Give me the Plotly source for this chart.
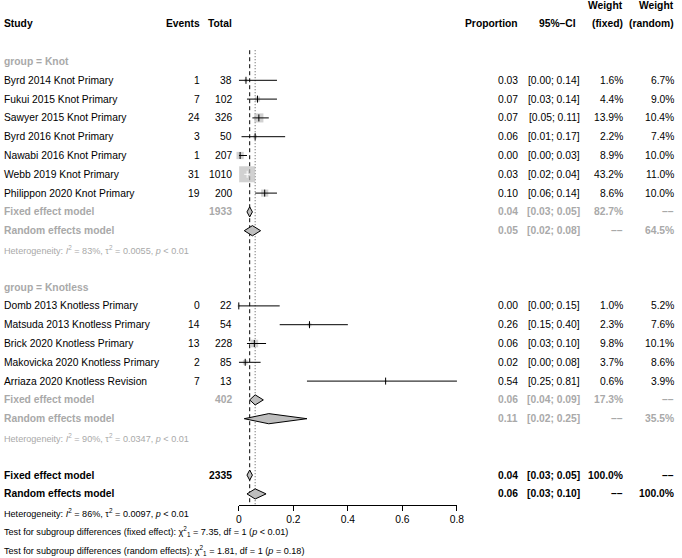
import plotly.graph_objects as go
import math

# ---------------- data ----------------
groups = ["Knot", "Knotless"]
study = [
    "Byrd 2014 Knot Primary", "Fukui 2015 Knot Primary", "Sawyer 2015 Knot Primary",
    "Byrd 2016 Knot Primary", "Nawabi 2016 Knot Primary", "Webb 2019 Knot Primary",
    "Philippon 2020 Knot Primary",
    "Domb 2013 Knotless Primary", "Matsuda 2013 Knotless Primary", "Brick 2020 Knotless Primary",
    "Makovicka 2020 Knotless Primary", "Arriaza 2020 Knotless Revision",
]
study_group = ["Knot"] * 7 + ["Knotless"] * 5
events = [1, 7, 24, 3, 1, 31, 19, 0, 14, 13, 2, 7]
total = [38, 102, 326, 50, 207, 1010, 200, 22, 54, 228, 85, 13]
ci_lo = [0.00, 0.03, 0.05, 0.01, 0.00, 0.02, 0.06, 0.00, 0.15, 0.03, 0.00, 0.25]
ci_hi = [0.14, 0.14, 0.11, 0.17, 0.03, 0.04, 0.14, 0.15, 0.40, 0.10, 0.08, 0.81]
w_fixed = [1.6, 4.4, 13.9, 2.2, 8.9, 43.2, 8.6, 1.0, 2.3, 9.8, 3.7, 0.6]
w_random = [6.7, 9.0, 10.4, 7.4, 10.0, 11.0, 10.0, 5.2, 7.6, 10.1, 8.6, 3.9]

# subgroup summaries
sub_total = [1933, 402]
sub_fixed_est = [0.04, 0.06]
sub_fixed_lo = [0.03, 0.04]
sub_fixed_hi = [0.05, 0.09]
sub_fixed_w = [82.7, 17.3]
sub_random_est = [0.05, 0.11]
sub_random_lo = [0.02, 0.02]
sub_random_hi = [0.08, 0.25]
sub_random_w = [64.5, 35.5]
sub_i2 = ["83%", "90%"]
sub_tau2 = ["0.0055", "0.0347"]
sub_p = ["< 0.01", "< 0.01"]

# overall
all_total = 2335
all_fixed = (0.04, 0.03, 0.05)
all_random = (0.06, 0.03, 0.10)
all_i2, all_tau2, all_p = "86%", "0.0097", "< 0.01"
test_fixed = ("7.35", "1", "< 0.01")
test_random = ("1.81", "1", "= 0.18")

x_ticks = [0, 0.2, 0.4, 0.6, 0.8]
x_ticklabels = ["0", "0.2", "0.4", "0.6", "0.8"]

# ---------------- layout constants ----------------
W, H = 682, 558
ROW0_PX, ROW_H = 80.3, 18.8
AXIS_PX = 505
X0_PX, X1_PX = 239.3, 460.7
FONT = "Liberation Sans, Arial, Helvetica, sans-serif"
FS, FS_SMALL = 10.3, 9.1
GRAY_TXT = "#A9A9A9"
GRAY_SQ = "#BEBEBE"
DIAM_H = 0.27  # half height (rows)
SQ_REF = 16.0  # px side for the largest weight

col_study = 1
col_events = 200
col_total = 232
col_prop = 523
col_ci = 586
col_ci_head = 582
col_wf = 629
col_wr = 681

annotations = []


def txt(xpx, row, text, anchor="right", color="black", size=FS, bold=False):
    if bold:
        text = "<b>" + text + "</b>"
    annotations.append(dict(
        x=xpx / W, xref="paper", y=row, yref="y", text=text, showarrow=False,
        xanchor=anchor, yanchor="middle", borderpad=0, borderwidth=0,
        font=dict(family=FONT, size=size, color=color)))


def fmt_ci(lo, hi):
    return "[%.2f; %.2f]" % (lo, hi)


DASH = "\u2013\u2013"

# header
txt(col_study, -3, "Study", "left", bold=True)
txt(col_events, -3, "Events", bold=True)
txt(col_total, -3, "Total", bold=True)
txt(col_prop, -3, "Proportion", bold=True)
txt(col_ci_head, -3, "95%\u2013CI", bold=True)
txt(col_wf, -4, "Weight", bold=True)
txt(col_wf, -3, "(fixed)", bold=True)
txt(col_wr, -4, "Weight", bold=True)
txt(col_wr, -3, "(random)", bold=True)

fig = go.Figure()

# reference lines (fixed dashed, random dotted)
ref_top = -1.6
ref_bot = (AXIS_PX - ROW0_PX) / ROW_H
fig.add_trace(go.Scatter(x=[all_fixed[0], all_fixed[0]], y=[ref_top, ref_bot], mode="lines",
                         line=dict(color="black", width=1, dash="4px,3px"), hoverinfo="skip"))
fig.add_trace(go.Scatter(x=[all_random[0], all_random[0]], y=[ref_top, ref_bot], mode="lines",
                         line=dict(color="#555555", width=1, dash="1px,2px"), hoverinfo="skip"))

sq_x, sq_y, sq_s = [], [], []
ci_x, ci_y = [], []
ciw_x, ciw_y = [], []
tk_x, tk_y, tk_c = [], [], []
diamonds = []

row = -1
for gi, g in enumerate(groups):
    txt(col_study, row, "group = " + g, "left", GRAY_TXT, bold=True)
    row += 1
    for i, s in enumerate(study):
        if study_group[i] != g:
            continue
        est = events[i] / total[i]
        txt(col_study, row, s, "left")
        txt(col_events, row, str(events[i]))
        txt(col_total, row, str(total[i]))
        txt(col_prop, row, "%.2f" % est)
        txt(col_ci, row, fmt_ci(ci_lo[i], ci_hi[i]))
        txt(col_wf, row, "%.1f%%" % w_fixed[i])
        txt(col_wr, row, "%.1f%%" % w_random[i])
        side = SQ_REF * math.sqrt(w_fixed[i] / max(w_fixed))
        sq_x.append(est); sq_y.append(row); sq_s.append(side)
        half = side / 2 / (X1_PX - X0_PX) * (x_ticks[-1] - x_ticks[0])
        inside = (est - half) <= ci_lo[i] and (est + half) >= ci_hi[i]
        if inside:
            ciw_x += [ci_lo[i], ci_hi[i], None]; ciw_y += [row, row, None]
        else:
            ci_x += [ci_lo[i], ci_hi[i], None]; ci_y += [row, row, None]
        tk_x.append(est); tk_y.append(row); tk_c.append("white" if inside else "black")
        row += 1
    # fixed
    txt(col_study, row, "Fixed effect model", "left", GRAY_TXT, bold=True)
    txt(col_total, row, str(sub_total[gi]), color=GRAY_TXT, bold=True)
    txt(col_prop, row, "%.2f" % sub_fixed_est[gi], color=GRAY_TXT, bold=True)
    txt(col_ci, row, fmt_ci(sub_fixed_lo[gi], sub_fixed_hi[gi]), color=GRAY_TXT, bold=True)
    txt(col_wf, row, "%.1f%%" % sub_fixed_w[gi], color=GRAY_TXT, bold=True)
    txt(col_wr, row, DASH, color=GRAY_TXT, bold=True)
    diamonds.append((sub_fixed_est[gi], sub_fixed_lo[gi], sub_fixed_hi[gi], row))
    row += 1
    txt(col_study, row, "Random effects model", "left", GRAY_TXT, bold=True)
    txt(col_prop, row, "%.2f" % sub_random_est[gi], color=GRAY_TXT, bold=True)
    txt(col_ci, row, fmt_ci(sub_random_lo[gi], sub_random_hi[gi]), color=GRAY_TXT, bold=True)
    txt(col_wf, row, DASH, color=GRAY_TXT, bold=True)
    txt(col_wr, row, "%.1f%%" % sub_random_w[gi], color=GRAY_TXT, bold=True)
    diamonds.append((sub_random_est[gi], sub_random_lo[gi], sub_random_hi[gi], row))
    row += 1
    txt(col_study, row, "Heterogeneity: <i>I</i><sup>2</sup> = %s, \u03c4<sup>2</sup> = %s, <i>p</i> %s"
        % (sub_i2[gi], sub_tau2[gi], sub_p[gi]), "left", GRAY_TXT, FS_SMALL)
    row += 2

# overall
row = 21
txt(col_study, row, "Fixed effect model", "left", bold=True)
txt(col_total, row, str(all_total), bold=True)
txt(col_prop, row, "%.2f" % all_fixed[0], bold=True)
txt(col_ci, row, fmt_ci(all_fixed[1], all_fixed[2]), bold=True)
txt(col_wf, row, "100.0%", bold=True)
txt(col_wr, row, DASH, bold=True)
diamonds.append((all_fixed[0], all_fixed[1], all_fixed[2], row))
row += 1
txt(col_study, row, "Random effects model", "left", bold=True)
txt(col_prop, row, "%.2f" % all_random[0], bold=True)
txt(col_ci, row, fmt_ci(all_random[1], all_random[2]), bold=True)
txt(col_wf, row, DASH, bold=True)
txt(col_wr, row, "100.0%", bold=True)
diamonds.append((all_random[0], all_random[1], all_random[2], row))
row += 1
txt(col_study, row, "Heterogeneity: <i>I</i><sup>2</sup> = %s, \u03c4<sup>2</sup> = %s, <i>p</i> %s"
    % (all_i2, all_tau2, all_p), "left", size=FS_SMALL)
row += 1
txt(col_study, row, "Test for subgroup differences (fixed effect): \u03c7<sup>2</sup><sub>1</sub> = %s, df = %s (<i>p</i> %s)"
    % test_fixed, "left", size=FS_SMALL)
row += 1
txt(col_study, row, "Test for subgroup differences (random effects): \u03c7<sup>2</sup><sub>1</sub> = %s, df = %s (<i>p</i> %s)"
    % test_random, "left", size=FS_SMALL)

# squares
fig.add_trace(go.Scatter(x=sq_x, y=sq_y, mode="markers", cliponaxis=False,
                         marker=dict(symbol="square", size=sq_s, color=GRAY_SQ, line=dict(width=0)),
                         hoverinfo="skip"))
# CI lines
fig.add_trace(go.Scatter(x=ci_x, y=ci_y, mode="lines", line=dict(color="black", width=1),
                         hoverinfo="skip"))
fig.add_trace(go.Scatter(x=ciw_x, y=ciw_y, mode="lines", line=dict(color="white", width=1),
                         hoverinfo="skip"))
# estimate ticks
fig.add_trace(go.Scatter(x=tk_x, y=tk_y, mode="markers", cliponaxis=False,
                         marker=dict(symbol="line-ns-open", size=5, color=tk_c,
                                     line=dict(width=1, color=tk_c)),
                         hoverinfo="skip"))
# diamonds
for est, lo, hi, r in diamonds:
    fig.add_trace(go.Scatter(x=[lo, est, hi, est, lo], y=[r, r - DIAM_H, r, r + DIAM_H, r],
                             mode="lines", fill="toself", fillcolor=GRAY_SQ,
                             line=dict(color="black", width=1), hoverinfo="skip"))

top_row = -ROW0_PX / ROW_H
bot_row = (H - ROW0_PX) / ROW_H

fig.update_layout(
    width=W, height=H, margin=dict(l=0, r=0, t=0, b=0),
    paper_bgcolor="white", plot_bgcolor="white", showlegend=False,
    annotations=annotations,
    font=dict(family=FONT, size=FS, color="black"),
    xaxis=dict(domain=[X0_PX / W, X1_PX / W], range=[x_ticks[0], x_ticks[-1]],
               anchor="free", position=1 - AXIS_PX / H,
               showline=True, linecolor="black", linewidth=1,
               ticks="outside", ticklen=5, tickcolor="black", tickwidth=1,
               tickvals=x_ticks, ticktext=x_ticklabels,
               tickfont=dict(family=FONT, size=FS, color="black"),
               showgrid=False, zeroline=False, fixedrange=True),
    yaxis=dict(domain=[0, 1], range=[bot_row, top_row], visible=False,
               showgrid=False, zeroline=False, fixedrange=True),
)

fig.write_html("out.html", config={"displayModeBar": False},
               post_script="document.body.style.margin='0';document.body.style.overflow='hidden';")
